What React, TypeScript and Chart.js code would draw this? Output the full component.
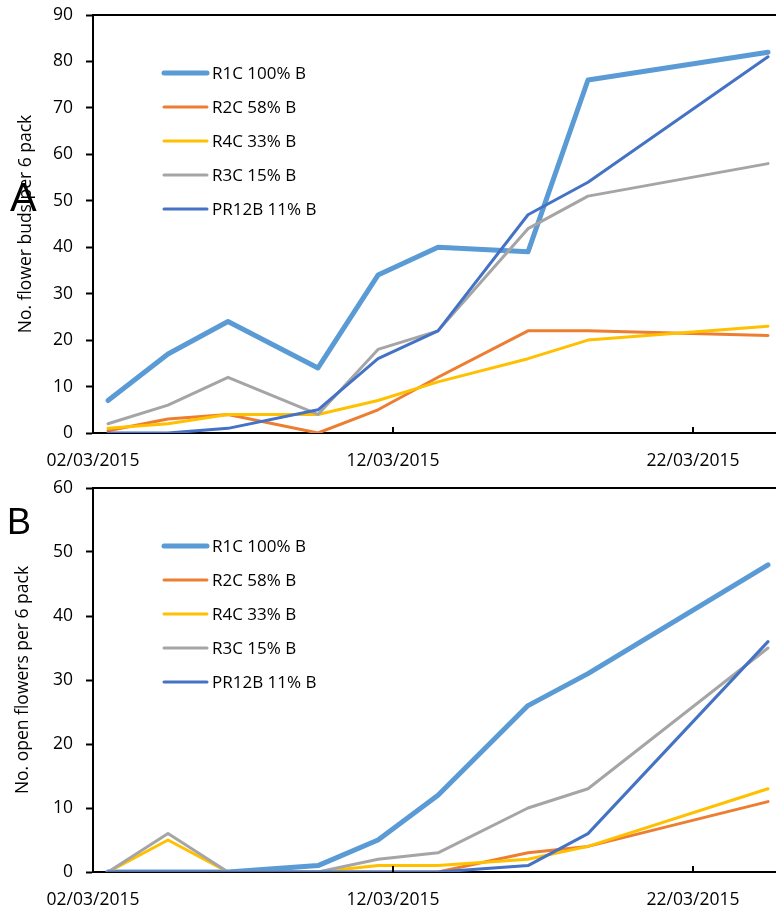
import React, { useEffect, useRef } from "react";
import { Chart, registerables } from "chart.js";

Chart.register(...registerables);

// ---- data ----
const sampleDates = ["02/03/2015", "04/03/2015", "06/03/2015", "09/03/2015", "11/03/2015", "13/03/2015", "16/03/2015", "18/03/2015", "24/03/2015"];
const axisStartDate = "02/03/2015";
const axisEndDate = "25/03/2015";
const xTickLabels = ["02/03/2015", "12/03/2015", "22/03/2015"];

const seriesNames = ["R1C 100% B", "R2C 58% B", "R4C 33% B", "R3C 15% B", "PR12B 11% B"];
const seriesColors = ["#5B9BD5", "#ED7D31", "#FFC000", "#A5A5A5", "#4472C4"];

const budsR1C = [7, 17, 24, 14, 34, 40, 39, 76, 82];
const budsR2C = [0.5, 3, 4, 0, 5, 12, 22, 22, 21];
const budsR4C = [1, 2, 4, 4, 7, 11, 16, 20, 23];
const budsR3C = [2, 6, 12, 4, 18, 22, 44, 51, 58];
const budsPR12B = [0, 0, 1, 5, 16, 22, 47, 54, 81];

const openR1C = [0, 0, 0, 1, 5, 12, 26, 31, 48];
const openR2C = [0, 0, 0, 0, 0, 0, 3, 4, 11];
const openR4C = [0, 5, 0, 0, 1, 1, 2, 4, 13];
const openR3C = [0, 6, 0, 0, 2, 3, 10, 13, 35];
const openPR12B = [0, 0, 0, 0, 0, 0, 1, 6, 36];

const budsYMax = 90;
const openYMax = 60;
const yStep = 10;

const budsTitle = "No. flower buds per 6 pack";
const openTitle = "No. open flowers per 6 pack";

// ---- helpers ----
function dayNumber(s: string): number {
  const [d, m, y] = s.split("/").map(Number);
  return Date.UTC(y, m - 1, d) / 86400000;
}
function dayOffset(s: string): number {
  return dayNumber(s) - dayNumber(axisStartDate);
}

const FONT = "'Open Sans', 'Noto Sans', sans-serif";
const CANVAS_W = 800;

const decorPlugin = {
  id: "decor",
  afterDraw(chart: any) {
    const { ctx, chartArea, scales } = chart;
    ctx.save();
    // top border
    ctx.strokeStyle = "#000";
    ctx.lineWidth = 2;
    ctx.beginPath();
    ctx.moveTo(chartArea.left - 1, chartArea.top);
    ctx.lineTo(chart.width, chartArea.top);
    ctx.stroke();
    // inner x tick marks
    const xs = scales.x;
    ctx.beginPath();
    xs.ticks.forEach((t: any) => {
      const px = xs.getPixelForValue(t.value);
      if (px > chartArea.left + 3) {
        ctx.moveTo(px, chartArea.bottom);
        ctx.lineTo(px, chartArea.bottom - 6);
      }
    });
    ctx.stroke();
    // legend
    const ds = chart.data.datasets;
    ctx.font = `17px ${FONT}`;
    ctx.textBaseline = "middle";
    ctx.textAlign = "left";
    ds.forEach((d: any, i: number) => {
      const y = chartArea.top + 58 + i * 34;
      const x0 = chartArea.left + 71;
      ctx.strokeStyle = d.borderColor;
      ctx.lineWidth = d.borderWidth;
      ctx.lineCap = "round";
      ctx.beginPath();
      ctx.moveTo(x0, y);
      ctx.lineTo(x0 + 43, y);
      ctx.stroke();
      ctx.fillStyle = "#000";
      ctx.fillText(d.label, x0 + 48, y + 1);
    });
    ctx.restore();
  },
};

function buildConfig(series: number[][], yMax: number, title: string, padTop: number, xAxisH: number, titlePad: number): any {
  const datasets = series.map((vals, i) => ({
    label: seriesNames[i],
    data: vals.map((v, j) => ({ x: dayOffset(sampleDates[j]) + 0.5, y: v })),
    borderColor: seriesColors[i],
    backgroundColor: seriesColors[i],
    borderWidth: i === 0 ? 5 : 3,
    pointRadius: 0,
    tension: 0,
    fill: false,
    order: series.length - i,
    borderJoinStyle: "round",
    borderCapStyle: "round",
  }));
  return {
    type: "line",
    data: { datasets },
    plugins: [decorPlugin],
    options: {
      responsive: false,
      animation: false,
      devicePixelRatio: 1,
      layout: { padding: { top: padTop, right: CANVAS_W - 783, left: 0, bottom: 0 } },
      plugins: { legend: { display: false }, tooltip: { enabled: false } },
      scales: {
        x: {
          type: "linear",
          min: 0,
          max: dayOffset(axisEndDate),
          afterBuildTicks: (s: any) => {
            s.ticks = xTickLabels.map((l) => ({ value: dayOffset(l) }));
          },
          afterFit: (s: any) => {
            s.height = xAxisH;
            s.paddingLeft = 0;
            s.paddingRight = 0;
          },
          grid: { display: false },
          border: { display: true, color: "#000", width: 2 },
          ticks: {
            autoSkip: false,
            maxRotation: 0,
            padding: 10,
            color: "#000",
            font: { family: FONT, size: 17.5 },
            callback: (v: number) => {
              const idx = xTickLabels.findIndex((l) => dayOffset(l) === v);
              return idx >= 0 ? xTickLabels[idx] : "";
            },
          },
        },
        y: {
          min: 0,
          max: yMax,
          afterFit: (s: any) => {
            s.width = 93;
            s.paddingTop = 0;
            s.paddingBottom = 0;
          },
          grid: {
            display: true,
            drawOnChartArea: false,
            drawTicks: true,
            tickLength: 7,
            tickWidth: 2,
            tickColor: "#000",
            color: "#000",
          },
          border: { display: true, color: "#000", width: 2 },
          ticks: {
            stepSize: yStep,
            padding: 13,
            color: "#000",
            font: { family: FONT, size: 17.5 },
          },
          title: {
            display: true,
            text: title,
            color: "#000",
            font: { family: FONT, size: 17.5 },
            padding: { top: titlePad, bottom: 0 },
          },
        },
      },
    },
  };
}

function ChartCanvas(props: { series: number[][]; yMax: number; title: string; top: number; height: number; padTop: number; xAxisH: number; titlePad: number }) {
  const ref = useRef<HTMLCanvasElement | null>(null);
  useEffect(() => {
    if (!ref.current) return;
    const chart = new Chart(ref.current, buildConfig(props.series, props.yMax, props.title, props.padTop, props.xAxisH, props.titlePad));
    return () => chart.destroy();
  }, []);
  return (
    <canvas
      ref={ref}
      width={CANVAS_W}
      height={props.height}
      style={{ position: "absolute", left: 0, top: props.top, width: CANVAS_W, height: props.height }}
    />
  );
}

export default function App() {
  return (
    <div style={{ position: "absolute", left: 0, top: 0, width: 776, height: 908, overflow: "hidden", background: "#fff" }}>
      <ChartCanvas
        series={[budsR1C, budsR2C, budsR4C, budsR3C, budsPR12B]}
        yMax={budsYMax}
        title={budsTitle}
        top={0}
        height={470}
        padTop={15}
        xAxisH={37}
        titlePad={16}
      />
      <ChartCanvas
        series={[openR1C, openR2C, openR4C, openR3C, openPR12B]}
        yMax={openYMax}
        title={openTitle}
        top={470}
        height={438}
        padTop={18}
        xAxisH={36}
        titlePad={13}
      />
      <div style={{ position: "absolute", left: 10, top: 177, fontFamily: "'Liberation Sans', Arial, sans-serif", fontSize: 40, lineHeight: 1 }}>A</div>
      <div style={{ position: "absolute", left: 7, top: 504, fontFamily: "'Liberation Sans', Arial, sans-serif", fontSize: 36, lineHeight: 1 }}>B</div>
    </div>
  );
}
